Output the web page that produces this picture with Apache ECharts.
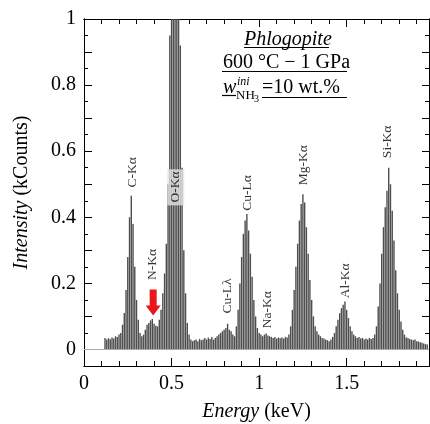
<!DOCTYPE html>
<html>
<head>
<meta charset="utf-8">
<script src="https://cdn.jsdelivr.net/npm/echarts@6/dist/echarts.min.js"></script>
<style>
html,body{margin:0;padding:0;background:#fff;}
#chart{width:430px;height:424px;}
</style>
</head>
<body>
<div id="chart"></div>
<script>
// ---- data ----
const energyStart = 0.12;   // keV, first channel
const energyStep = 0.01;    // keV per channel
const counts = [
  0.035, 0.030, 0.034, 0.031, 0.036, 0.033, 0.040, 0.038,
  0.045, 0.050, 0.075, 0.110, 0.180, 0.280, 0.400, 0.465, 0.380, 0.250,
  0.150, 0.090, 0.050, 0.040, 0.045, 0.060, 0.075, 0.080, 0.088, 0.092,
  0.078, 0.072, 0.070, 0.090, 0.120, 0.170, 0.230, 0.320, 0.500, 0.950,
  1.300, 1.500, 1.500, 1.400, 1.200, 0.920, 0.550, 0.300, 0.170, 0.080,
  0.045, 0.030, 0.025, 0.028, 0.030, 0.025, 0.032, 0.028, 0.030, 0.035,
  0.030, 0.036, 0.032, 0.038, 0.030, 0.035, 0.040, 0.045, 0.050, 0.055,
  0.060, 0.065, 0.078, 0.060, 0.055, 0.045, 0.040, 0.070, 0.120, 0.200,
  0.280, 0.350, 0.390, 0.410, 0.360, 0.290, 0.220, 0.150, 0.100, 0.065,
  0.050, 0.045, 0.040, 0.045, 0.048, 0.042, 0.040, 0.038, 0.035, 0.038,
  0.033, 0.036, 0.034, 0.036, 0.033, 0.038, 0.036, 0.045, 0.070, 0.120,
  0.180, 0.250, 0.320, 0.390, 0.440, 0.470, 0.445, 0.370, 0.290, 0.210,
  0.150, 0.100, 0.070, 0.055, 0.045, 0.040, 0.035, 0.033, 0.030, 0.028,
  0.025, 0.030, 0.038, 0.050, 0.070, 0.090, 0.110, 0.125, 0.135, 0.145,
  0.120, 0.095, 0.070, 0.055, 0.045, 0.040, 0.035, 0.038, 0.033, 0.035,
  0.030, 0.033, 0.030, 0.035, 0.032, 0.035, 0.045, 0.070, 0.130, 0.200,
  0.290, 0.370, 0.430, 0.480, 0.550, 0.500, 0.420, 0.330, 0.240, 0.170,
  0.120, 0.085, 0.060, 0.045, 0.036, 0.035, 0.032, 0.030, 0.028, 0.030,
  0.025, 0.024, 0.022, 0.020, 0.018, 0.016, 0.015
];

// peak labels: name, energy (keV), value where the (rotated) text starts
const peakNames    = ['C-Kα', 'N-Kα', 'O-Kα', 'Cu-Lλ', 'Cu-Lα', 'Na-Kα', 'Mg-Kα', 'Al-Kα', 'Si-Kα'];
const peakEnergies = [0.278, 0.393, 0.524, 0.821, 0.935, 1.050, 1.255, 1.495, 1.735];
const peakLabelY   = [0.490, 0.210, 0.436, 0.109, 0.420, 0.064, 0.497, 0.155, 0.579];

// arrow marking N-Kα
const arrowEnergy = 0.395;
const arrowValue = 0.142;

// axis ticks
const xMin = 0, xMax = 1.97;
const yMin = -0.05, yMax = 1;
const xTickLabels = [0, 0.5, 1, 1.5];
const xMinorTicks = [0.1, 0.2, 0.3, 0.4, 0.6, 0.7, 0.8, 0.9, 1.1, 1.2, 1.3, 1.4, 1.6, 1.7, 1.8, 1.9];
const yTickLabels = [0, 0.2, 0.4, 0.6, 0.8, 1];
const yMajorTicks = [0, 0.1, 0.2, 0.3, 0.4, 0.5, 0.6, 0.7, 0.8, 0.9, 1];
const yMinorTicks = [0.05, 0.15, 0.25, 0.35, 0.45, 0.55, 0.65, 0.75, 0.85, 0.95];

// ---- chart ----
const FONT = 'Liberation Serif';
const spectrum = counts.map((v, i) => [+(energyStart + i * energyStep).toFixed(3), v]);
const labelData = peakNames.map((n, i) => [peakEnergies[i], peakLabelY[i], n]);

function xAx(pos, ticks, len, labels) {
  return {
    type: 'value', position: pos, min: xMin, max: xMax,
    axisLine: {show: true, onZero: false, lineStyle: {color: '#000', width: 1}},
    axisTick: {show: true, inside: true, length: len, customValues: ticks, lineStyle: {color: '#000', width: 1}},
    axisLabel: labels ? {show: true, customValues: labels, fontFamily: FONT, fontSize: 20, color: '#000', margin: 8} : {show: false},
    splitLine: {show: false}
  };
}
function yAx(pos, ticks, len, labels) {
  return {
    type: 'value', position: pos, min: yMin, max: yMax,
    axisLine: {show: true, onZero: false, lineStyle: {color: '#000', width: 1}},
    axisTick: {show: true, inside: true, length: len, customValues: ticks, lineStyle: {color: '#000', width: 1}},
    axisLabel: labels ? {show: true, customValues: labels, fontFamily: FONT, fontSize: 20, color: '#000', margin: 8} : {show: false},
    splitLine: {show: false}
  };
}

const xAxes = [
  xAx('bottom', xTickLabels, 8, xTickLabels),
  xAx('bottom', xMinorTicks, 5, null),
  xAx('top', xTickLabels, 8, null),
  xAx('top', xMinorTicks, 5, null)
];
xAxes[0].name = '{i|Energy} (keV)';
xAxes[0].nameLocation = 'middle';
xAxes[0].nameGap = 36;
xAxes[0].nameTextStyle = {fontFamily: FONT, fontSize: 20, color: '#000', rich: {i: {fontFamily: FONT, fontSize: 20, fontStyle: 'italic', color: '#000'}}};

const yAxes = [
  yAx('left', yMajorTicks, 8, yTickLabels),
  yAx('left', yMinorTicks, 4, null),
  yAx('right', yMajorTicks, 7, null),
  yAx('right', yMinorTicks, 4, null)
];
yAxes[0].name = '{i|Intensity} (kCounts)';
yAxes[0].nameLocation = 'middle';
yAxes[0].nameGap = 52;
yAxes[0].nameTextStyle = {fontFamily: FONT, fontSize: 20, color: '#000', rich: {i: {fontFamily: FONT, fontSize: 20, fontStyle: 'italic', color: '#000'}}};

const chart = echarts.init(document.getElementById('chart'), null, {renderer: 'canvas'});
chart.setOption({
  animation: false,
  backgroundColor: '#fff',
  grid: {left: 84, right: 1, top: 19, bottom: 58, containLabel: false, outerBoundsMode: 'none'},
  xAxis: xAxes,
  yAxis: yAxes,
  series: [
    {
      type: 'bar', xAxisIndex: 0, yAxisIndex: 0,
      data: spectrum,
      barWidth: '80%',
      itemStyle: {color: '#4d4d4d'},
      clip: true,
      markLine: {
        silent: true, symbol: 'none', label: {show: false},
        lineStyle: {color: '#aaa', width: 1, type: 'solid'},
        data: [{yAxis: 0}]
      },
      z: 2
    },
    {
      type: 'scatter', xAxisIndex: 0, yAxisIndex: 0,
      data: labelData.map(d => d[2] === 'O-Kα'
        ? {value: d, label: {backgroundColor: '#e4e4e4', padding: [2, 2, 1, 3]}}
        : {value: d}),
      symbolSize: 0, silent: true, z: 5,
      label: {
        show: true, position: 'inside', rotate: 90, align: 'left', verticalAlign: 'middle',
        fontFamily: FONT, fontSize: 13.5, color: '#000',
        formatter: p => p.value[2]
      },
      labelLayout: {hideOverlap: false}
    },
    {
      type: 'scatter', xAxisIndex: 0, yAxisIndex: 0,
      data: [[arrowEnergy, arrowValue]], silent: true, z: 6,
      symbol: 'path://M4,0 L11,0 L11,16 L15,16 L7.5,26 L0,16 L4,16 Z',
      symbolSize: [15, 26], symbolKeepAspect: false,
      itemStyle: {color: '#e8151b', opacity: 1}
    }
  ],
  graphic: [
    {type: 'text', left: 244, top: 30, z: 10, style: {text: 'Phlogopite', font: 'italic 20px "Liberation Serif"', fill: '#000'}},
    {type: 'line', z: 10, shape: {x1: 244, y1: 47.5, x2: 329, y2: 47.5}, style: {stroke: '#000', lineWidth: 1.2}},
    {type: 'text', left: 223, top: 53, z: 10, style: {text: '600 °C − 1 GPa', font: '20px "Liberation Serif"', fill: '#000'}},
    {type: 'line', z: 10, shape: {x1: 222, y1: 71.5, x2: 347, y2: 71.5}, style: {stroke: '#000', lineWidth: 1.2}},
    {type: 'text', left: 223, top: 78, z: 10, style: {text: 'w', font: 'italic 20px "Liberation Serif"', fill: '#000'}},
    {type: 'text', left: 237, top: 76, z: 10, style: {text: 'ini', font: 'italic 12px "Liberation Serif"', fill: '#000'}},
    {type: 'text', left: 236, top: 89, z: 10, style: {text: 'NH', font: '13px "Liberation Serif"', fill: '#000'}},
    {type: 'text', left: 254, top: 94, z: 10, style: {text: '3', font: '10px "Liberation Serif"', fill: '#000'}},
    {type: 'text', left: 262, top: 78, z: 10, style: {text: '=10 wt.%', font: '20px "Liberation Serif"', fill: '#000'}},
    {type: 'line', z: 10, shape: {x1: 222, y1: 95.5, x2: 236, y2: 95.5}, style: {stroke: '#000', lineWidth: 1.2}},
    {type: 'line', z: 10, shape: {x1: 262, y1: 97.5, x2: 347, y2: 97.5}, style: {stroke: '#000', lineWidth: 1.2}}
  ]
});
</script>
</body>
</html>
